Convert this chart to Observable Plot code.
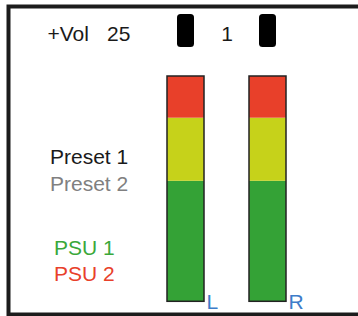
<!DOCTYPE html>
<html>
<head>
<meta charset="utf-8">
<script src="https://cdn.jsdelivr.net/npm/d3@7"></script>
<script src="https://cdn.jsdelivr.net/npm/@observablehq/plot@0.6"></script>
<style>
  html, body { margin: 0; padding: 0; background: #fff; }
  #chart svg { display: block; }
</style>
</head>
<body>
<div id="chart"></div>
<script>
// ---- data ----
const channels = ["L", "R"];
const zones = ["normal", "warning", "clip"];
const zoneLow = [0, 53.5, 81.5];
const zoneHigh = [53.5, 81.5, 100];
const volLabel = ["+Vol"];
const volValue = ["25"];
const balanceValue = ["1"];
const presetLabels = ["Preset 1", "Preset 2"];
const psuLabels = ["PSU 1", "PSU 2"];

// ---- styles ----
const zoneColors = ["#34a236", "#c6d21a", "#e8402a"];
const presetColors = ["#1a1a1a", "#808080"];
const psuColors = ["#3aa83a", "#e8402a"];
const font = "'Liberation Sans', Arial, Helvetica, sans-serif";
const fs = 21;

const rows = channels.flatMap(ch => zones.map((z, i) => ({ch, zone: z, lo: zoneLow[i], hi: zoneHigh[i]})));

const label = (data, opts) => Plot.text(data, {
  text: d => d, frameAnchor: "top-left", textAnchor: "start", lineAnchor: "bottom",
  fontFamily: font, fontSize: fs, ...opts
});

const marks = [
  Plot.frame({stroke: "#1c1c1c", strokeWidth: 4, insetTop: 6, insetLeft: 8, insetBottom: 2, insetRight: -20}),
  Plot.barY(rows, {x: "ch", y1: "lo", y2: "hi", fill: "zone"}),
  Plot.barY(channels, {x: d => d, y1: () => 0, y2: () => 100, fill: "none", stroke: "#222", strokeWidth: 1.5}),
  Plot.cell(channels, {x: d => d, fill: "#000", insetTop: 14, insetBottom: 269, insetLeft: 10, insetRight: 10, rx: 3.5}),
  Plot.text(channels, {x: d => d, text: d => d, frameAnchor: "bottom", dy: -8, dx: 20.5,
    textAnchor: "start", lineAnchor: "bottom", fill: "#3d7cc9", fontFamily: font, fontSize: fs}),
  label(volLabel, {dx: 47, dy: 40, fill: "#1a1a1a"}),
  label(volValue, {dx: 106.5, dy: 40, fill: "#1a1a1a"}),
  label(balanceValue, {dx: 226.5, dy: 40, textAnchor: "middle", fill: "#1a1a1a"}),
  ...presetLabels.map((t, i) => label([t], {dx: 49.5, dy: 163.3 + i * 26.7, fill: presetColors[i]})),
  ...psuLabels.map((t, i) => label([t], {dx: 53.5, dy: 254 + i * 26.7, fill: psuColors[i]}))
];

const chart = Plot.plot({
  width: 358,
  height: 316,
  margin: 0,
  style: {background: "#fff"},
  x: {type: "band", domain: channels, range: [166, 286], paddingInner: 0.554, paddingOuter: 0, axis: null},
  y: {domain: [0, 100], range: [301.3, 76], axis: null},
  color: {domain: zones, range: zoneColors},
  marks
});
document.getElementById("chart").append(chart);
</script>
</body>
</html>
